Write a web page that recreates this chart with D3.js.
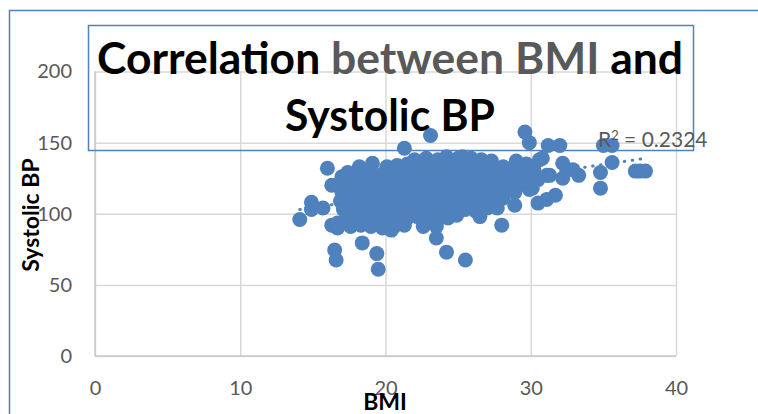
<!DOCTYPE html>
<html>
<head>
<meta charset="utf-8">
<script src="https://cdn.jsdelivr.net/npm/d3@7"></script>
<style>
  body { margin: 0; background: #fff; }
  svg { display: block; font-family: Lato, "Open Sans", sans-serif; }
</style>
</head>
<body>
<script>
'use strict';

// tick values
const xTicks = [0, 10, 20, 30, 40];
const yTicks = [0, 50, 100, 150, 200];

// BMI, systolic BP
const outliers = [
  [14.1, 96], [14.9, 108], [14.9, 103], [15.7, 104], [16.0, 132], [16.3, 120], [16.3, 92],
  [16.7, 90], [16.5, 74.5], [16.6, 67.5], [16.7, 93.5], [18.4, 79.5], [19.4, 72], [19.5, 61],
  [20.4, 88.5], [22.6, 91], [23.5, 91], [23.5, 83], [24.2, 73], [25.5, 67.5], [26.5, 98],
  [28.0, 92], [27.7, 104], [28.9, 106], [21.3, 146], [23.1, 155], [29.6, 157.5], [29.9, 150],
  [31.2, 148], [32.0, 148], [35.0, 148], [35.6, 148], [30.8, 139], [32.2, 135.5], [32.9, 131],
  [33.3, 127], [31.3, 127], [32.2, 125], [29.9, 117], [31.1, 110], [31.7, 113], [30.5, 107.5],
  [34.8, 129], [34.8, 118], [35.6, 136], [37.2, 130], [37.5, 130], [37.9, 130],
  [30.6, 138], [32.5, 131], [31.1, 127], [30.5, 124], [29.7, 125], [30.1, 118], [24.9, 99]
];

const cluster = [
  [22.0, 138], [22.8, 139], [23.6, 138], [24.2, 140], [25.0, 139], [25.3, 140], [25.9, 139], [26.6, 138], [27.3, 137],
  [29.0, 137], [29.7, 135],
  [17.4, 129], [18.2, 133], [19.1, 135.5], [20.1, 133], [20.8, 134], [21.5, 135], [22.2, 133], [23.0, 134],
  [23.7, 133], [24.5, 134], [25.2, 133], [26.0, 134], [26.7, 133], [27.4, 132], [28.1, 133], [28.8, 132],
  [29.5, 132], [30.2, 131],
  [17.0, 126], [17.7, 127], [18.4, 128], [19.1, 127], [19.8, 128], [20.5, 127], [21.2, 128], [21.9, 127],
  [22.6, 126], [23.3, 127], [24.0, 128], [24.7, 127], [25.4, 128], [26.1, 127], [26.8, 126], [27.5, 127],
  [28.2, 128], [28.9, 127], [29.6, 126], [30.3, 127],
  [16.8, 121], [17.5, 122], [18.2, 121], [18.9, 120], [19.6, 121], [20.3, 122], [21.0, 121], [21.7, 120],
  [22.4, 121], [23.1, 122], [23.8, 121], [24.5, 120], [25.2, 121], [25.9, 122], [26.6, 121], [27.3, 120],
  [28.0, 121], [28.7, 122], [29.4, 121],
  [17.0, 115], [17.7, 114], [18.4, 115], [19.1, 116], [19.8, 115], [20.5, 114], [21.2, 115], [21.9, 116],
  [22.6, 115], [23.3, 114], [24.0, 115], [24.7, 116], [25.4, 115], [26.1, 114], [26.8, 115], [27.5, 116],
  [28.2, 115], [28.9, 115],
  [16.9, 109], [17.6, 108], [18.3, 109], [19.0, 110], [19.7, 109], [20.4, 108], [21.1, 109], [21.8, 110],
  [22.5, 109], [23.2, 108], [23.9, 109], [24.6, 110], [25.3, 109], [26.0, 108], [26.7, 109], [27.4, 110],
  [28.1, 111],
  [17.1, 103], [17.8, 102], [18.5, 103], [19.2, 104], [19.9, 103], [20.6, 102], [21.3, 103], [22.0, 104],
  [22.7, 103], [23.4, 102], [24.1, 103], [24.8, 104], [25.5, 103], [26.2, 102], [27.0, 104],
  [17.3, 97], [18.0, 96], [18.7, 97], [19.4, 98], [20.1, 97], [20.8, 96], [21.5, 97], [22.2, 98],
  [22.9, 97], [23.6, 96], [24.3, 97],
  [17.6, 91], [18.3, 92], [19.0, 91], [19.8, 90], [20.6, 91], [21.3, 92]
];

// linear trendline end points
const trendBmi = [14.1, 37.9];
const trendBp = [103, 139];
const rSquared = "0.2324";

const width = 758, height = 414;

const svg = d3.select('body').append('svg')
  .attr('width', width)
  .attr('height', height);

const x = d3.scaleLinear().domain([0, 40]).range([95, 676]);
const y = d3.scaleLinear().domain([0, 200]).range([356, 71.5]);

// outer chart frame (only left and top show)
svg.append('path')
  .attr('d', 'M9.5,' + height + 'V10.5H' + width)
  .attr('fill', 'none')
  .attr('stroke', '#4f81bd')
  .attr('stroke-width', 1.5);

// gridlines + tick labels
const xAxis = svg.append('g')
  .attr('transform', 'translate(0,' + y(0) + ')')
  .call(d3.axisBottom(x).tickValues(xTicks).tickSize(-(y(0) - y(200))).tickPadding(25));

const yAxis = svg.append('g')
  .attr('transform', 'translate(' + x(0) + ',0)')
  .call(d3.axisLeft(y).tickValues(yTicks).tickSize(-(x(40) - x(0))).tickPadding(23));

[xAxis, yAxis].forEach(g => {
  g.select('.domain').remove();
  g.selectAll('line').attr('stroke', '#d9d9d9').attr('stroke-width', 1.5);
  g.selectAll('text')
    .attr('fill', '#595959')
    .style('font-size', '20px')
    .style('font-family', 'Lato, sans-serif');
});

// axis base lines a bit darker
svg.append('line')
  .attr('x1', x(0)).attr('x2', x(40)).attr('y1', y(0)).attr('y2', y(0))
  .attr('stroke', '#c8c8c8').attr('stroke-width', 1.5);
svg.append('line')
  .attr('x1', x(0)).attr('x2', x(0)).attr('y1', y(0)).attr('y2', y(200))
  .attr('stroke', '#c8c8c8').attr('stroke-width', 1.5);

// title box
svg.append('rect')
  .attr('x', 88.5).attr('y', 25.5)
  .attr('width', 605).attr('height', 125)
  .attr('fill', 'none')
  .attr('stroke', '#4f81bd')
  .attr('stroke-width', 1.5);

const title1 = svg.append('text')
  .attr('x', 97).attr('y', 74)
  .attr('textLength', 586)
  .attr('lengthAdjust', 'spacingAndGlyphs')
  .style('font-size', '43px')
  .style('font-weight', 'bold');
title1.append('tspan').attr('fill', '#000').text('Correlation ');
title1.append('tspan').attr('fill', '#595959').text('between BMI');
title1.append('tspan').attr('fill', '#000').text(' and');

svg.append('text')
  .attr('x', 285).attr('y', 131)
  .attr('textLength', 210)
  .attr('lengthAdjust', 'spacingAndGlyphs')
  .style('font-size', '43px')
  .style('font-weight', 'bold')
  .attr('fill', '#000')
  .text('Systolic BP');

// points
svg.append('g').selectAll('circle')
  .data(cluster.concat(outliers))
  .enter()
  .append('circle')
  .attr('cx', d => x(d[0]))
  .attr('cy', d => y(d[1]))
  .attr('r', 7.5)
  .attr('fill', '#4f81bd');

// dotted trendline
svg.append('line')
  .attr('x1', x(trendBmi[0])).attr('y1', y(trendBp[0]))
  .attr('x2', x(trendBmi[1])).attr('y2', y(trendBp[1]))
  .attr('stroke', '#4f81bd')
  .attr('stroke-width', 3)
  .attr('stroke-linecap', 'round')
  .attr('stroke-dasharray', '0.5,7.5');

// R squared label
const r2 = svg.append('text')
  .attr('x', 598).attr('y', 147)
  .attr('fill', '#595959')
  .style('font-size', '21px');
r2.append('tspan').text('R');
r2.append('tspan').attr('dy', -7).style('font-size', '13px').text('2');
r2.append('tspan').attr('dy', 7).text(' = ' + rSquared);

// axis titles
svg.append('text')
  .attr('x', 385).attr('y', 410)
  .attr('text-anchor', 'middle')
  .style('font-size', '23px')
  .style('font-weight', 'bold')
  .text('BMI');

svg.append('text')
  .attr('transform', 'translate(39,215)rotate(-90)')
  .attr('text-anchor', 'middle')
  .style('font-size', '23px')
  .style('font-weight', 'bold')
  .text('Systolic BP');
</script>
</body>
</html>
